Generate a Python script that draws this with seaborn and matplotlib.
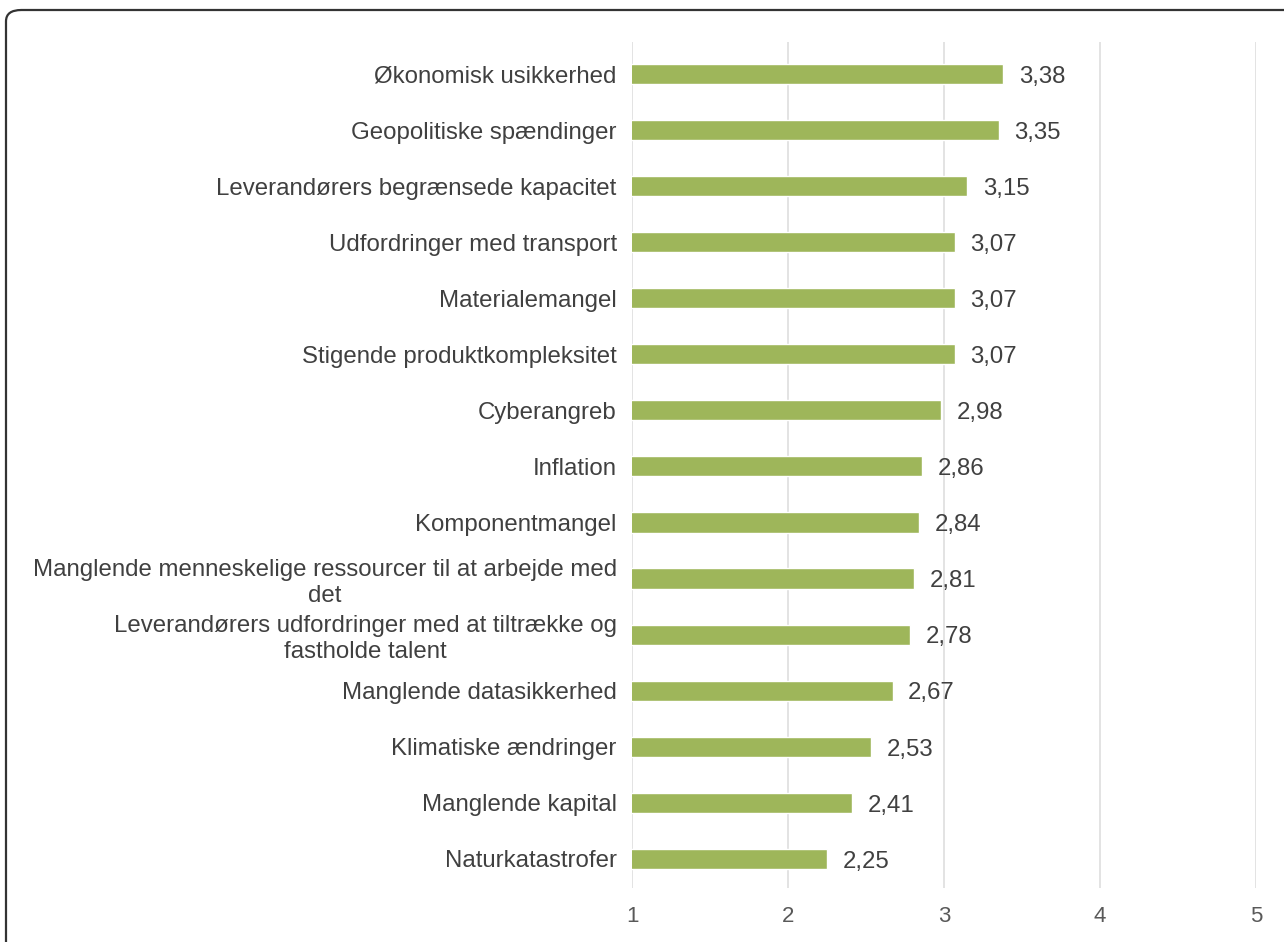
import matplotlib
matplotlib.use("Agg")
import matplotlib.pyplot as plt
import seaborn as sns
from matplotlib.patches import FancyBboxPatch

# Data
categories = [
    "Økonomisk usikkerhed",
    "Geopolitiske spændinger",
    "Leverandørers begrænsede kapacitet",
    "Udfordringer med transport",
    "Materialemangel",
    "Stigende produktkompleksitet",
    "Cyberangreb",
    "Inflation",
    "Komponentmangel",
    "Manglende menneskelige ressourcer til at arbejde med\ndet",
    "Leverandørers udfordringer med at tiltrække og\nfastholde talent",
    "Manglende datasikkerhed",
    "Klimatiske ændringer",
    "Manglende kapital",
    "Naturkatastrofer",
]
values = [3.38, 3.35, 3.15, 3.07, 3.07, 3.07, 2.98, 2.86, 2.84, 2.81, 2.78, 2.67, 2.53, 2.41, 2.25]
x_ticks = [1, 2, 3, 4, 5]

sns.set_style("white")
plt.rcParams["font.family"] = ["Liberation Sans", "DejaVu Sans"]

fig = plt.figure(figsize=(12.84, 9.42), dpi=100)
ax = fig.add_axes([632 / 1284, 1 - 888 / 942, 624 / 1284, 846 / 942])

sns.barplot(x=values, y=categories, color="#9EB65A", width=0.36, saturation=1, ax=ax, zorder=3)

ax.set_xlim(1, 5)
ax.set_ylim(14.52, -0.57)
ax.set_xticks(x_ticks)
ax.set_xticklabels([str(t) for t in x_ticks], fontsize=16, color="#595959")
ax.tick_params(axis="x", length=0, pad=13)
ax.tick_params(axis="y", length=0, pad=11)
for lbl in ax.get_yticklabels():
    lbl.set_fontsize(17.3)
    lbl.set_color("#404040")
    lbl.set_multialignment("center")
    lbl.set_linespacing(1.25)
ax.set_xlabel("")
ax.set_ylabel("")
ax.xaxis.grid(True, color="#dedede", linewidth=1.2, zorder=0)
ax.set_axisbelow(True)
for s in ax.spines.values():
    s.set_visible(False)

for i, v in enumerate(values):
    ax.text(v + 0.1, i + 0.05, f"{v:.2f}".replace(".", ","), va="center", ha="left",
            fontsize=17.3, color="#404040")

# rounded frame, cut off on right and bottom like the source image
frame = FancyBboxPatch((6 / 1284, -0.1), 1.2, 1.1 - 10 / 942,
                       boxstyle="round,pad=0,rounding_size=0.012",
                       transform=fig.transFigure, fill=False,
                       edgecolor="#333333", linewidth=1.6, clip_on=False)
fig.patches.append(frame)

fig.savefig("out.png", dpi=100, facecolor="white")
